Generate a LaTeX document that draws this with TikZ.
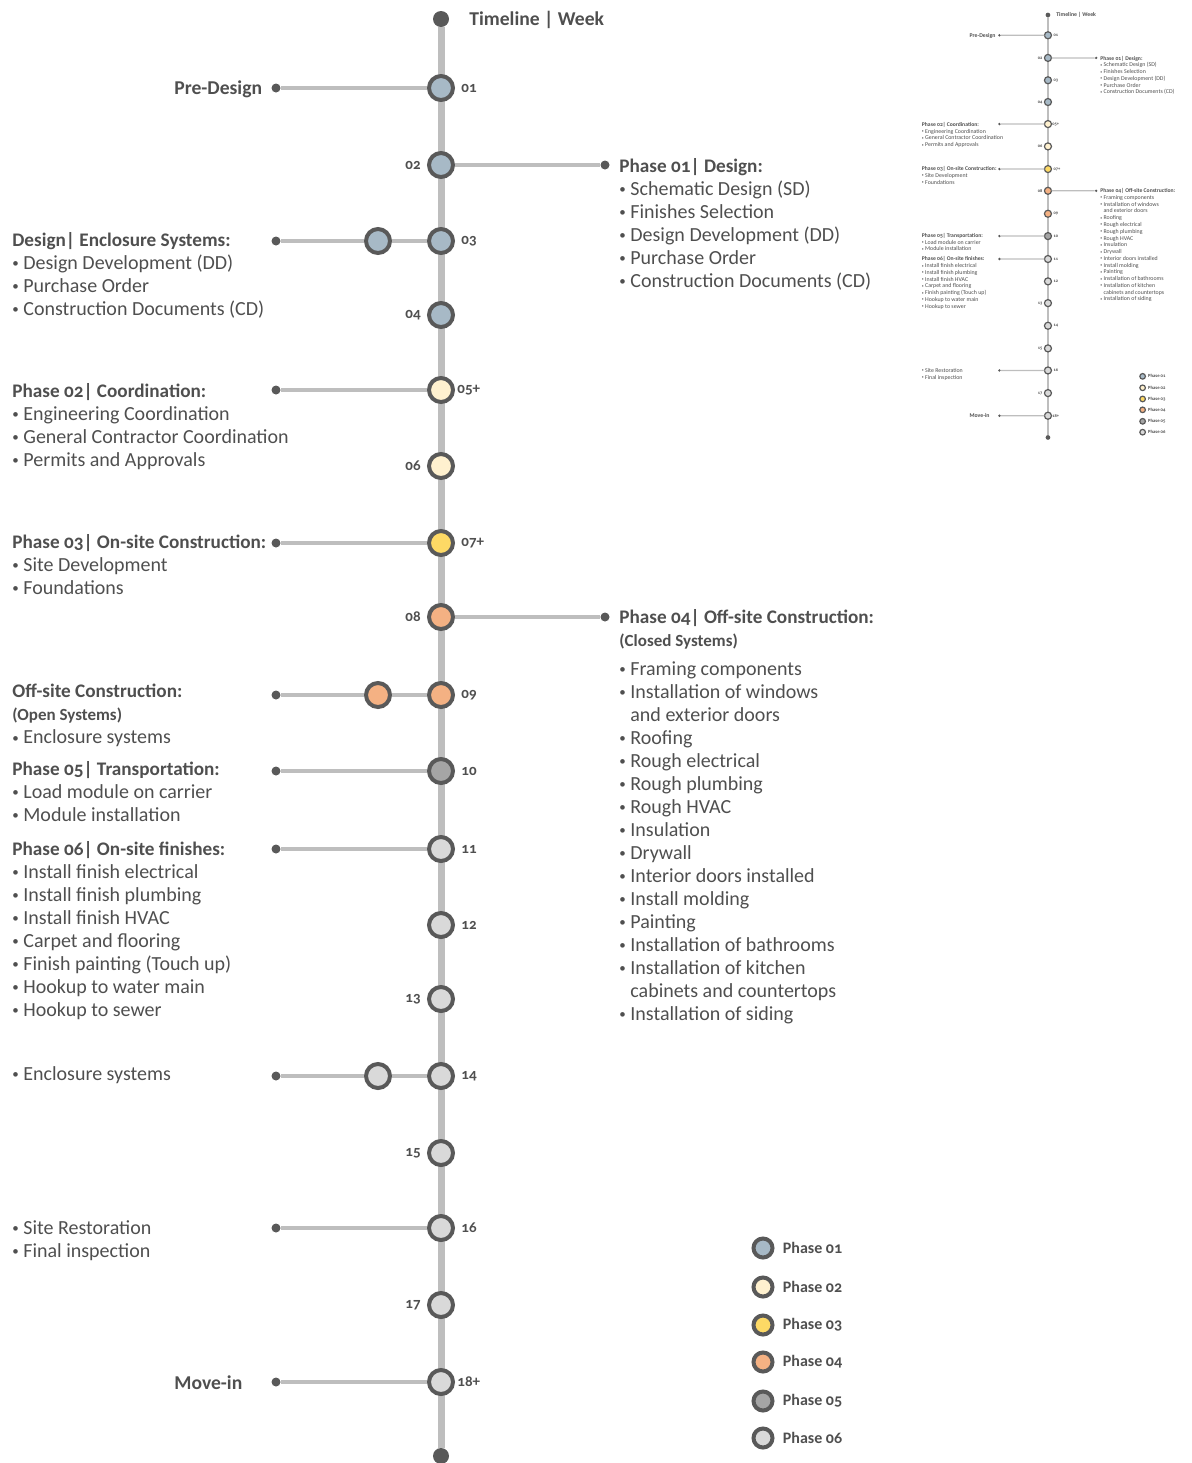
\documentclass[tikz,border=0pt]{standalone}
\usepackage{fontspec}
\setmainfont{Carlito}[Numbers=OldStyle]
\usepackage{tikz}
\usetikzlibrary{positioning}
\definecolor{inkgray}{HTML}{4F4F4F}
\definecolor{ringgray}{HTML}{595959}
\definecolor{spinegray}{HTML}{BEBEBE}
\definecolor{phaseone}{HTML}{A7B9C6}
\definecolor{phasetwo}{HTML}{FFF1CF}
\definecolor{phasethree}{HTML}{FDD965}
\definecolor{phasefour}{HTML}{F4B183}
\definecolor{phasefive}{HTML}{A5A5A5}
\definecolor{phasesix}{HTML}{D9D9D9}

\newcommand{\bul}{\raisebox{0.9pt}{\fontsize{6.5}{7}\selectfont•}\ }
\newcommand{\hd}[1]{{\fontsize{9.6}{11.5}\selectfont\bfseries #1}}

\tikzset{
  week/.style={circle,draw=ringgray,line width=2pt,minimum size=12pt,inner sep=0pt},
  key/.style={week,minimum size=9.5pt},
  enddot/.style={circle,fill=ringgray,minimum size=4.5pt,inner sep=0pt},
  bigdot/.style={circle,fill=ringgray,minimum size=8pt,inner sep=0pt},
  spine/.style={draw=spinegray,line width=3.5pt},
  branch/.style={draw=spinegray,line width=2pt},
  wklabel/.style={inner sep=0pt,text=inkgray,font=\fontsize{7.5}{9}\selectfont\bfseries},
  keylabel/.style={inner sep=0pt,text=inkgray,font=\fontsize{8}{9}\selectfont\bfseries},
  headtext/.style={anchor=base west,inner sep=0pt,text=inkgray,font=\fontsize{9.8}{11.5}\selectfont\bfseries},
  block/.style={anchor=north west,align=left,inner sep=0pt,text=inkgray,font=\fontsize{10}{11.5}\selectfont},
}

% parts shared by the poster and the small preview
\newcommand{\offsiteitems}{%
  \bul Framing components\\\bul Installation of windows\\\phantom{\bul}and exterior doors\\
  \bul Roofing\\\bul Rough electrical\\\bul Rough plumbing\\\bul Rough HVAC\\\bul Insulation\\
  \bul Drywall\\\bul Interior doors installed\\\bul Install molding\\\bul Painting\\
  \bul Installation of bathrooms\\\bul Installation of kitchen\\
  \phantom{\bul}cabinets and countertops\\\bul Installation of siding}

\newcommand{\weekspine}{%
  % spine
  \node[bigdot] (top) at (441,19) {};
  \node[bigdot] (bot) at (441,1456) {};
  \draw[spine] (top) -- (bot);
  \node[headtext] (title) at (469,25) {Timeline | Week};
  % weeks
  \foreach \i/\y/\lab/\col/\anc/\dir/\dx in {
    1/88/01/phaseone/west/east/3pt, 2/165/02/phaseone/east/west/-3pt,
    3/241/03/phaseone/west/east/3pt, 4/315/04/phaseone/east/west/-3pt,
    5/390/05+/phasetwo/west/east/1pt, 6/466/06/phasetwo/east/west/-3pt,
    7/543/07+/phasethree/west/east/3pt, 8/617/08/phasefour/east/west/-3pt,
    9/695/09/phasefour/west/east/3pt, 10/771/10/phasefive/west/east/3pt,
    11/849/11/phasesix/west/east/3pt, 12/925/12/phasesix/west/east/3pt,
    13/999/13/phasesix/east/west/-3pt, 14/1076/14/phasesix/west/east/3pt,
    15/1153/15/phasesix/east/west/-3pt, 16/1228/16/phasesix/west/east/3pt,
    17/1305/17/phasesix/east/west/-3pt, 18/1382/18+/phasesix/west/east/1pt}{
    \node[week,fill=\col] (w\i) at (441,\y) {};
    \node[wklabel,anchor=\anc] (l\i) at ([xshift=\dx]w\i.\dir) {\lab};
  }
  % legend
  \foreach \k/\col/\y in {01/phaseone/1248, 02/phasetwo/1287, 03/phasethree/1325,
    04/phasefour/1362, 05/phasefive/1401, 06/phasesix/1438}{
    \node[key,fill=\col] (k\k) at (763,\y) {};
    \node[keylabel,anchor=west] (kl\k) at ([xshift=4pt]k\k.east) {Phase \k};
  }
  % branches
  \node[enddot] (predot) at (276,88) {};
  \draw[branch] (predot) -- (w1);
  \node[headtext] (pre) at (174,94) {Pre-Design};
  \node[enddot] (desdot) at (605,165) {};
  \draw[branch] (w2) -- (desdot);
  \node[block] (design) at (619,158) {\hd{Phase 01| Design:}\\\bul Schematic Design (SD)\\
    \bul Finishes Selection\\\bul Design Development (DD)\\\bul Purchase Order\\\bul Construction Documents (CD)};
  \node[enddot] (coorddot) at (276,390) {};
  \draw[branch] (coorddot) -- (w5);
  \node[block] (coord) at (12,383) {\hd{Phase 02| Coordination:}\\\bul Engineering Coordination\\
    \bul General Contractor Coordination\\\bul Permits and Approvals};
  \node[enddot] (onsitedot) at (276,543) {};
  \draw[branch] (onsitedot) -- (w7);
  \node[block] (onsite) at (12,534) {\hd{Phase 03| On-site Construction:}\\\bul Site Development\\\bul Foundations};
  \node[enddot] (offdot) at (605,617) {};
  \draw[branch] (w8) -- (offdot);
  \node[enddot] (transdot) at (276,771) {};
  \draw[branch] (transdot) -- (w10);
  \node[block] (trans) at (12,761) {\hd{Phase 05| Transportation:}\\\bul Load module on carrier\\\bul Module installation};
  \node[enddot] (findot) at (276,849) {};
  \draw[branch] (findot) -- (w11);
  \node[block] (finish) at (12,841) {\hd{Phase 06| On-site finishes:}\\\bul Install finish electrical\\
    \bul Install finish plumbing\\\bul Install finish HVAC\\\bul Carpet and flooring\\
    \bul Finish painting (Touch up)\\\bul Hookup to water main\\\bul Hookup to sewer};
  \node[enddot] (restdot) at (276,1228) {};
  \draw[branch] (restdot) -- (w16);
  \node[block] (restore) at (12,1220) {\bul Site Restoration\\\bul Final inspection};
  \node[enddot] (movedot) at (276,1382) {};
  \draw[branch] (movedot) -- (w18);
  \node[headtext] (movein) at (174,1389) {Move-in};
}

\begin{document}
\begin{tikzpicture}[x=0.5pt,y=-0.5pt]
  \useasboundingbox (0,0) rectangle (1192,1463);
  \weekspine
  % enclosure systems (design)
  \node[enddot] (encdot) at (276,241) {};
  \node[week,fill=phaseone] (s3) at (378,241) {};
  \draw[branch] (encdot) -- (s3);
  \draw[branch] (s3) -- (w3);
  \node[block] (enclosure) at (12,232) {\hd{Design| Enclosure Systems:}\\\bul Design Development (DD)\\
    \bul Purchase Order\\\bul Construction Documents (CD)};
  % closed systems
  \node[block] (offsite) at (619,609) {\hd{Phase 04| Off-site Construction:}\\
    {\fontsize{8.5}{10}\selectfont\bfseries (Closed Systems)}\\[3pt]\offsiteitems};
  % open systems
  \node[enddot] (opendot) at (276,695) {};
  \node[week,fill=phasefour] (s9) at (378,695) {};
  \draw[branch] (opendot) -- (s9);
  \draw[branch] (s9) -- (w9);
  \node[block] (open) at (12,684) {\hd{Off-site Construction:}\\
    {\fontsize{8.5}{10}\selectfont\bfseries (Open Systems)}\\\bul Enclosure systems};
  % enclosure on site
  \node[enddot] (encldot) at (276,1076) {};
  \node[week,fill=phasesix] (s14) at (378,1076) {};
  \draw[branch] (encldot) -- (s14);
  \draw[branch] (s14) -- (w14);
  \node[block] (encl) at (12,1066) {\bul Enclosure systems};
  % preview
  \begin{scope}[shift={(918.3,9.4)},scale=0.294,transform shape,
    week/.append style={line width=0.6pt},spine/.append style={line width=1.1pt},
    branch/.append style={line width=0.6pt}]
    \weekspine
    \node[block] (offsite) at (619,609) {\hd{Phase 04| Off-site Construction:}\\\offsiteitems};
  \end{scope}
\end{tikzpicture}
\end{document}
